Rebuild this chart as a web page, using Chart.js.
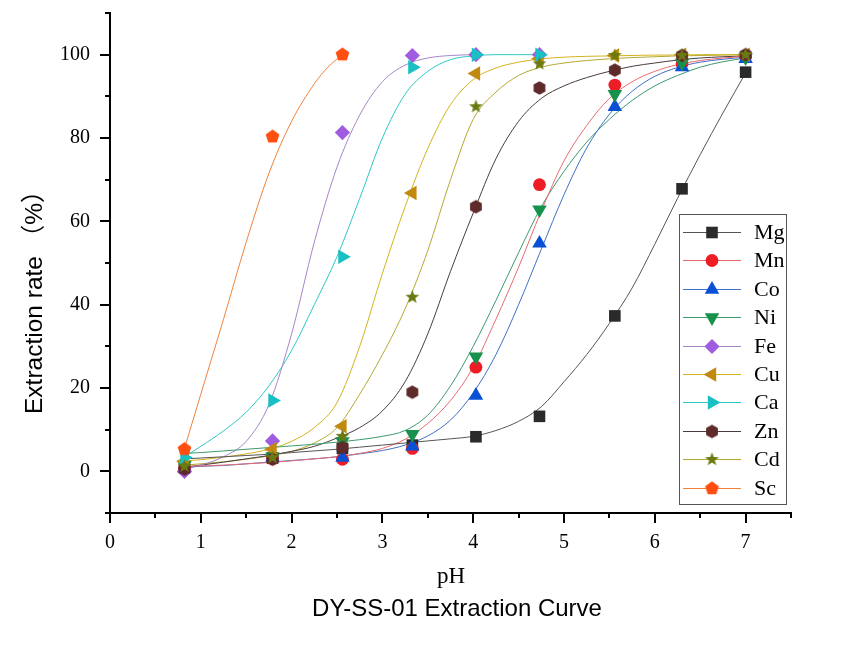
<!DOCTYPE html>
<html>
<head>
<meta charset="utf-8">
<script src="https://cdn.jsdelivr.net/npm/chart.js@4.4.0/dist/chart.umd.min.js"></script>
<style>
  html, body { margin: 0; padding: 0; background: #fff; }
  canvas { display: block; }
</style>
</head>
<body>
<canvas id="extraction-chart" width="865" height="648"></canvas>
<script>
// measured pH of each sample
var phPoints = [0.82, 1.79, 2.56, 3.33, 4.03, 4.73, 5.56, 6.3, 7.0];

// extraction rate (%) per metal
var mgData = [0.8, 3.2, 5.5, 6.3, 8.3, 13.2, 37.3, 67.8, 95.8];
var mnData = [0.5, 3.0, 2.9, 5.5, 25.0, 68.8, 92.7, 97.8, 99.5];
var coData = [0.8, 3.3, 3.3, 6.0, 18.2, 54.7, 87.5, 97.0, 99.0];
var niData = [1.5, 3.5, 7.2, 8.9, 27.5, 62.8, 90.5, 98.0, 99.3];
var feData = [0.0, 7.3, 81.3, 99.8, 100, 100];
var cuData = [2.4, 5.3, 10.8, 66.8, 95.5, 99.0, 99.8, 100, 100];
var caData = [3.3, 17.0, 51.5, 97.0, 100, 100];
var znData = [0.5, 2.9, 5.7, 19.0, 63.5, 92.0, 96.3, 99.8, 100];
var cdData = [1.2, 3.3, 8.4, 41.8, 87.5, 97.8, 99.8, 99.8, 100];
var scData = [5.3, 80.3, 100];

// fitted curves at these pH values
var fitPh = [0.82, 1, 1.25, 1.5, 1.75, 2, 2.25, 2.5, 2.75, 3, 3.25, 3.5, 3.75, 4, 4.25, 4.5, 4.75, 5, 5.25, 5.5, 5.75, 6, 6.25, 6.5, 6.75, 7];
var mgFit = [3.0, 3.2, 3.5, 3.8, 4.1, 4.5, 4.9, 5.3, 5.8, 6.3, 6.8, 7.3, 7.8, 8.4, 9.8, 12.0, 15.5, 21.5, 28.0, 35.5, 44.0, 54.5, 65.5, 76.0, 86.0, 95.6];
var mnFit = [1.2, 1.3, 1.5, 1.8, 2.1, 2.5, 3.0, 3.5, 4.3, 5.5, 7.7, 11.5, 17.0, 25.0, 36.5, 49.0, 62.5, 74.5, 83.0, 89.5, 93.5, 96.0, 97.6, 98.6, 99.2, 99.6];
var coFit = [1.0, 1.2, 1.4, 1.8, 2.2, 2.6, 3.0, 3.5, 4.2, 5.0, 6.3, 8.5, 12.3, 18.8, 28.0, 40.0, 53.3, 66.4, 77.6, 85.7, 91.2, 94.8, 96.9, 98.2, 98.9, 99.4];
var niFit = [4.3, 4.5, 4.9, 5.3, 5.7, 6.1, 6.5, 7.0, 7.6, 8.4, 9.8, 13.5, 20.5, 30.0, 41.0, 52.5, 63.5, 72.0, 79.0, 84.5, 89.0, 92.5, 95.0, 97.0, 98.3, 99.2];
var feFit = [0.5, 1.5, 3.5, 7.2, 16.0, 33.0, 55.0, 73.0, 85.5, 93.5, 97.5, 99.2, 99.8, 100, null, null, null, null, null, null, null, null, null, null, null, null];
var cuFit = [2.5, 2.8, 3.4, 4.2, 5.3, 7.2, 10.5, 16.5, 30.0, 47.5, 63.5, 77.5, 88.0, 94.0, 96.8, 98.2, 99.0, 99.4, 99.6, 99.7, 99.8, 99.9, 99.9, 100, 100, 100];
var caFit = [3.5, 6.0, 9.7, 14.2, 20.5, 29.0, 40.0, 51.5, 65.5, 80.0, 90.5, 96.0, 98.8, 99.7, 100, 100, 100, null, null, null, null, null, null, null, null, null];
var znFit = [1.0, 1.5, 2.2, 3.0, 3.8, 4.8, 6.0, 8.0, 10.5, 14.5, 21.5, 33.0, 48.0, 62.0, 75.0, 84.0, 89.5, 92.5, 94.5, 96.0, 97.2, 98.0, 98.7, 99.2, 99.5, 99.7];
var cdFit = [1.5, 1.8, 2.3, 2.9, 3.7, 4.8, 6.8, 10.5, 18.5, 28.0, 39.0, 53.0, 70.0, 84.5, 91.0, 95.0, 97.0, 98.0, 98.6, 99.0, 99.3, 99.5, 99.7, 99.8, 99.9, 100];
var scFitPh = [0.82, 1, 1.25, 1.5, 1.75, 2, 2.25, 2.4, 2.56];
var scFit = [5.5, 18.5, 36.5, 55.0, 71.5, 84.0, 93.0, 97.0, 100];

var metals = ['Mg', 'Mn', 'Co', 'Ni', 'Fe', 'Cu', 'Ca', 'Zn', 'Cd', 'Sc'];
var xTicks = [0, 1, 2, 3, 4, 5, 6, 7];
var yTicks = [0, 20, 40, 60, 80, 100];

var pointData = [mgData, mnData, coData, niData, feData, cuData, caData, znData, cdData, scData];
var fitData = [mgFit, mnFit, coFit, niFit, feFit, cuFit, caFit, znFit, cdFit, scFit];
var markerColors = ['#2a2a2a', '#ee1c24', '#0a50d4', '#16924c', '#a05ce0', '#c08a10', '#18c0c4', '#5e2a2a', '#6b7a10', '#ff4e10'];
var lineColors = ['#555555', '#e86a70', '#3f6fc4', '#3c9a6c', '#a585c8', '#d4b21c', '#2cc8c8', '#4a3c3c', '#b4a832', '#f0823c'];

// filled shapes Chart.js has no built-in style for
function makeShape(kind, color, r) {
    var size = Math.ceil(r * 2 + 2);
    var c = document.createElement('canvas');
    c.width = size;
    c.height = size;
    var g = c.getContext('2d');
    var n = kind == 'hexagon' ? 6 : (kind == 'star' ? 10 : 5);
    g.fillStyle = color;
    g.beginPath();
    for (var i = 0; i < n; i++) {
        var a = -Math.PI / 2 + i * 2 * Math.PI / n;
        var rr = (kind == 'star' && i % 2) ? r * 0.42 : r;
        var px = size / 2 + Math.cos(a) * rr;
        var py = size / 2 + Math.sin(a) * rr;
        if (i == 0) g.moveTo(px, py); else g.lineTo(px, py);
    }
    g.closePath();
    g.fill();
    return c;
}

var markerStyles = ['rect', 'circle', 'triangle', 'triangle', 'rectRot', 'triangle', 'triangle',
    makeShape('hexagon', markerColors[7], 6.8),
    makeShape('star', markerColors[8], 7.2),
    makeShape('pentagon', markerColors[9], 7.2)];
var markerRadius = [8.2, 6.4, 8.4, 8.4, 7.6, 8.4, 8.4, 7, 7, 7];
var markerRotation = [0, 0, 0, 180, 0, 270, 90, 0, 0, 0];

var datasets = [];
for (var i = 0; i < metals.length; i++) {
    var fx = metals[i] == 'Sc' ? scFitPh : fitPh;
    var curve = [];
    for (var j = 0; j < fx.length; j++) {
        if (fitData[i][j] != null) curve.push({x: fx[j], y: fitData[i][j]});
    }
    datasets.push({
        type: 'line',
        label: metals[i] + ' fit',
        data: curve,
        borderColor: lineColors[i],
        borderWidth: 1,
        pointRadius: 0,
        fill: false,
        cubicInterpolationMode: 'monotone',
        order: 30 + i
    });
    var pts = [];
    for (var k = 0; k < pointData[i].length; k++) {
        pts.push({x: phPoints[k], y: pointData[i][k]});
    }
    datasets.push({
        type: 'scatter',
        label: metals[i],
        data: pts,
        showLine: false,
        pointStyle: markerStyles[i],
        pointRadius: markerRadius[i],
        pointRotation: markerRotation[i],
        backgroundColor: markerColors[i],
        borderColor: markerColors[i],
        pointBorderWidth: 0,
        order: 10 - i
    });
}

function line(ctx, x1, y1, x2, y2) {
    ctx.beginPath();
    ctx.moveTo(x1, y1);
    ctx.lineTo(x2, y2);
    ctx.stroke();
}

var extrasPlugin = {
    id: 'extras',
    afterDraw: function(chart) {
        var ctx = chart.ctx;
        var area = chart.chartArea;
        var xs = chart.scales.x, ys = chart.scales.y;
        ctx.save();
        // minor ticks
        ctx.strokeStyle = '#000';
        ctx.lineWidth = 2;
        for (var v = 0.5; v <= 7.5; v += 1) {
            var px = Math.round(xs.getPixelForValue(v));
            line(ctx, px, area.bottom, px, area.bottom + 5);
        }
        for (var w = -10; w <= 110; w += 20) {
            var py = Math.round(ys.getPixelForValue(w));
            line(ctx, area.left - 5, py, area.left, py);
        }
        // axis titles and caption
        ctx.fillStyle = '#000';
        ctx.textBaseline = 'middle';
        ctx.textAlign = 'center';
        ctx.font = '23px "Liberation Serif", serif';
        ctx.fillText('pH', 451, 577);
        ctx.font = '24px "Liberation Sans", Arial, sans-serif';
        ctx.fillText('DY-SS-01 Extraction Curve', 457, 609);
        ctx.save();
        ctx.translate(35, 414);
        ctx.rotate(-Math.PI / 2);
        ctx.textAlign = 'left';
        ctx.font = '24.5px "Liberation Sans", "Noto Sans CJK SC", sans-serif';
        ctx.fillText('Extraction rate （%）', 0, 0);
        ctx.restore();
        // legend box
        ctx.strokeStyle = '#555';
        ctx.lineWidth = 1;
        ctx.strokeRect(679.5, 214.5, 107, 290);
        ctx.textAlign = 'left';
        ctx.font = '22px "Liberation Serif", serif';
        for (var i = 0; i < metals.length; i++) {
            var ly = Math.round(232 + i * 28.4) + 0.5;
            ctx.strokeStyle = lineColors[i];
            ctx.lineWidth = 1.2;
            line(ctx, 683, ly, 741, ly);
            ctx.fillStyle = markerColors[i];
            Chart.helpers.drawPoint(ctx, {
                pointStyle: markerStyles[i],
                radius: markerRadius[i],
                rotation: markerRotation[i],
                borderWidth: 0
            }, 712, ly);
            ctx.fillStyle = '#000';
            ctx.fillText(metals[i], 754, ly + 1);
        }
        ctx.restore();
    }
};

var chart = new Chart(document.getElementById('extraction-chart').getContext('2d'), {
    type: 'scatter',
    data: {datasets: datasets},
    options: {
        responsive: false,
        animation: false,
        devicePixelRatio: 1,
        layout: {padding: {top: 13, right: 74, left: 0, bottom: 0}},
        plugins: {
            legend: {display: false},
            tooltip: {enabled: false}
        },
        scales: {
            x: {
                type: 'linear',
                min: 0,
                max: 7.5,
                afterBuildTicks: function(scale) {
                    scale.ticks = xTicks.map(function(v) { return {value: v}; });
                },
                afterFit: function(scale) {
                    scale.height = 135;
                    scale.paddingLeft = 0;
                    scale.paddingRight = 0;
                },
                border: {display: true, color: '#000', width: 2},
                grid: {drawOnChartArea: false, drawTicks: true, tickLength: 10, color: '#000', lineWidth: 2},
                ticks: {color: '#000', padding: 8, font: {family: '"Liberation Serif", serif', size: 20}}
            },
            y: {
                type: 'linear',
                min: -10,
                max: 110,
                afterBuildTicks: function(scale) {
                    scale.ticks = yTicks.map(function(v) { return {value: v}; });
                },
                afterFit: function(scale) {
                    scale.width = 110;
                    scale.paddingTop = 0;
                    scale.paddingBottom = 0;
                },
                border: {display: true, color: '#000', width: 2},
                grid: {drawOnChartArea: false, drawTicks: true, tickLength: 10, color: '#000', lineWidth: 2},
                ticks: {color: '#000', padding: 10, font: {family: '"Liberation Serif", serif', size: 20}}
            }
        }
    },
    plugins: [extrasPlugin]
});
</script>
</body>
</html>
